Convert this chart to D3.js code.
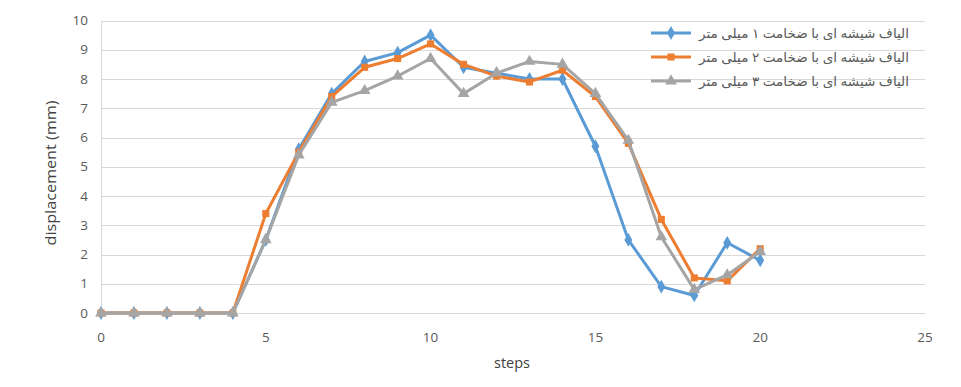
<!DOCTYPE html>
<html>
<head>
<meta charset="utf-8">
<script src="https://cdn.jsdelivr.net/npm/d3@7"></script>
<style>
  body { margin: 0; background: #fff; }
  text { font-family: "Open Sans", "DejaVu Sans", sans-serif; }
</style>
</head>
<body>
<div id="chart"></div>
<script>
const steps = [0, 1, 2, 3, 4, 5, 6, 7, 8, 9, 10, 11, 12, 13, 14, 15, 16, 17, 18, 19, 20];
const fiber1 = [0, 0, 0, 0, 0, 2.5, 5.6, 7.5, 8.6, 8.9, 9.5, 8.4, 8.2, 8.0, 8.0, 5.7, 2.5, 0.9, 0.6, 2.4, 1.8];
const fiber2 = [0, 0, 0, 0, 0, 3.4, 5.5, 7.4, 8.4, 8.7, 9.2, 8.5, 8.1, 7.9, 8.3, 7.4, 5.8, 3.2, 1.2, 1.1, 2.2];
const fiber3 = [0, 0, 0, 0, 0, 2.5, 5.4, 7.2, 7.6, 8.1, 8.7, 7.5, 8.2, 8.6, 8.5, 7.5, 5.9, 2.6, 0.8, 1.3, 2.1];
const seriesNames = [
    'الیاف شیشه ای با ضخامت ۱ میلی متر',
    'الیاف شیشه ای با ضخامت ۲ میلی متر',
    'الیاف شیشه ای با ضخامت ۳ میلی متر'
];
const xTicks = [0, 5, 10, 15, 20, 25];
const yTicks = [0, 1, 2, 3, 4, 5, 6, 7, 8, 9, 10];

const width = 961, height = 387;
const colors = ['#5b9bd5', '#ed7d31', '#a5a5a5'];
const symbols = [d3.symbolDiamond, d3.symbolSquare, d3.symbolTriangle];
const symSizes = [55, 50, 60];

let svg = d3.select('#chart')
    .append('svg')
    .attr('width', width)
    .attr('height', height);

let xScale = d3.scaleLinear().domain([0, 25]).range([101, 925]);
let yScale = d3.scaleLinear().domain([0, 10]).range([313, 20.5]);

// gridlines
svg.append('g')
    .selectAll('line')
    .data(yTicks)
    .enter()
    .append('line')
    .attr('x1', xScale(0))
    .attr('x2', xScale(25))
    .attr('y1', d => Math.round(yScale(d)) + 0.5)
    .attr('y2', d => Math.round(yScale(d)) + 0.5)
    .attr('stroke', '#d9d9d9')
    .attr('stroke-width', 1);

svg.append('line')
    .attr('x1', Math.round(xScale(0)) + 0.5)
    .attr('x2', Math.round(xScale(0)) + 0.5)
    .attr('y1', yScale(10))
    .attr('y2', yScale(0))
    .attr('stroke', '#d9d9d9');

// tick labels
svg.append('g')
    .selectAll('text')
    .data(yTicks)
    .enter()
    .append('text')
    .attr('x', 88)
    .attr('y', d => yScale(d))
    .attr('dy', '0.35em')
    .attr('text-anchor', 'end')
    .attr('font-size', 13.5)
    .attr('fill', '#595959')
    .text(d => d);

svg.append('g')
    .selectAll('text')
    .data(xTicks)
    .enter()
    .append('text')
    .attr('x', d => xScale(d))
    .attr('y', 342)
    .attr('text-anchor', 'middle')
    .attr('font-size', 13.5)
    .attr('fill', '#595959')
    .text(d => d);

// axis titles
svg.append('text')
    .attr('x', 512)
    .attr('y', 368)
    .attr('text-anchor', 'middle')
    .attr('font-size', 14.5)
    .attr('fill', '#404040')
    .text('steps');

svg.append('text')
    .attr('transform', 'translate(56,173) rotate(-90)')
    .attr('text-anchor', 'middle')
    .attr('font-size', 14.5)
    .attr('textLength', 145)
    .attr('lengthAdjust', 'spacingAndGlyphs')
    .attr('fill', '#404040')
    .text('displacement (mm)');

// series
const allSeries = [fiber1, fiber2, fiber3];
let line = d3.line()
    .x((d, i) => xScale(steps[i]))
    .y(d => yScale(d));

allSeries.forEach((vals, k) => {
    let g = svg.append('g');
    g.append('path')
        .datum(vals)
        .attr('d', line)
        .attr('fill', 'none')
        .attr('stroke', colors[k])
        .attr('stroke-width', 3)
        .attr('stroke-linejoin', 'round');
    g.selectAll('.pt')
        .data(vals)
        .enter()
        .append('path')
        .attr('class', 'pt')
        .attr('transform', (d, i) => `translate(${xScale(steps[i])},${yScale(d)})`)
        .attr('d', d3.symbol().type(symbols[k]).size(symSizes[k]))
        .attr('fill', colors[k]);
});

// legend
const legendY = [33, 57, 81];
seriesNames.forEach((name, k) => {
    let g = svg.append('g');
    g.append('line')
        .attr('x1', 651)
        .attr('x2', 691)
        .attr('y1', legendY[k])
        .attr('y2', legendY[k])
        .attr('stroke', colors[k])
        .attr('stroke-width', 3);
    g.append('path')
        .attr('transform', `translate(671,${legendY[k]})`)
        .attr('d', d3.symbol().type(symbols[k]).size(symSizes[k]))
        .attr('fill', colors[k]);
    g.append('text')
        .attr('x', 909)
        .attr('y', legendY[k])
        .attr('dy', '0.35em')
        .attr('text-anchor', 'end')
        .attr('font-size', 13)
        .attr('textLength', 210)
        .attr('lengthAdjust', 'spacingAndGlyphs')
        .attr('fill', '#595959')
        .text(name);
});
</script>
</body>
</html>
